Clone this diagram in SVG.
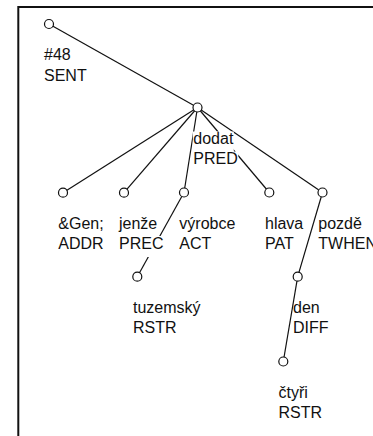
<svg xmlns="http://www.w3.org/2000/svg" width="373" height="436" viewBox="0 0 373 436">
  <style>
    .frame { fill: none; stroke: #111; stroke-width: 2; }
    .edge { stroke: #111; stroke-width: 1.2; fill: none; }
    .dot { fill: #fff; stroke: #111; stroke-width: 1.2; }
    .bg { fill: #fff; }
    text { font-family: "Liberation Sans", Arial, Helvetica, sans-serif; font-size: 16px; fill: #111; }
  </style>
  <rect x="0" y="0" width="373" height="436" fill="#fff"/>
  <path class="frame" d="M18.3,437 V7 H375"/>

  <!-- dependency edges, centre to centre -->
  <g id="connectors">
    <line class="edge" x1="49" y1="24" x2="197.5" y2="107.5"/>
    <line class="edge" x1="197.5" y1="107.5" x2="63" y2="192.7"/>
    <line class="edge" x1="197.5" y1="107.5" x2="124" y2="192.7"/>
    <line class="edge" x1="197.5" y1="107.5" x2="184" y2="192.5"/>
    <line class="edge" x1="197.5" y1="107.5" x2="269.3" y2="192.5"/>
    <line class="edge" x1="197.5" y1="107.5" x2="322.5" y2="192.5"/>
    <line class="edge" x1="184" y1="192.5" x2="137.3" y2="276.7"/>
    <line class="edge" x1="322.5" y1="192.5" x2="297.7" y2="276.7"/>
    <line class="edge" x1="297.7" y1="276.7" x2="283.3" y2="361.5"/>
  </g>

  <g id="n-sent">
    <circle class="dot" cx="49" cy="24" r="4.5"/>
    <text x="44" y="60">#48</text>
    <text x="44" y="81">SENT</text>
  </g>

  <g id="n-dodat">
    <circle class="dot" cx="197.5" cy="107.5" r="4.5"/>
    <rect class="bg" x="192.8" y="131.5" width="41" height="20.5"/>
    <rect class="bg" x="192.8" y="151.5" width="45.5" height="20.5"/>
    <text x="193.3" y="144">dodat</text>
    <text x="193.3" y="164">PRED</text>
  </g>

  <g id="n-gen">
    <circle class="dot" cx="63" cy="192.7" r="4.5"/>
    <text x="58.3" y="228.5">&amp;Gen;</text>
    <text x="58.3" y="248.5">ADDR</text>
  </g>

  <g id="n-jenze">
    <circle class="dot" cx="124" cy="192.7" r="4.5"/>
    <rect class="bg" x="118.5" y="216" width="39.2" height="20.5"/>
    <rect class="bg" x="118.5" y="236" width="45.4" height="21"/>
    <text x="119" y="228.5">jenže</text>
    <text x="119" y="248.5">PREC</text>
  </g>

  <g id="n-vyrobce">
    <circle class="dot" cx="184" cy="192.5" r="4.5"/>
    <text x="179.3" y="228.5">výrobce</text>
    <text x="179.3" y="248.5">ACT</text>
  </g>

  <g id="n-hlava">
    <circle class="dot" cx="269.3" cy="192.5" r="4.5"/>
    <text x="265" y="228.5">hlava</text>
    <text x="265" y="248.5">PAT</text>
  </g>

  <g id="n-pozde">
    <circle class="dot" cx="322.5" cy="192.5" r="4.5"/>
    <text x="318.3" y="228.5">pozdě</text>
    <text x="318.3" y="248.5">TWHEN</text>
  </g>

  <g id="n-tuzemsky">
    <circle class="dot" cx="137.3" cy="276.7" r="4.5"/>
    <text x="133" y="313">tuzemský</text>
    <text x="133" y="333">RSTR</text>
  </g>

  <g id="n-den">
    <circle class="dot" cx="297.7" cy="276.7" r="4.5"/>
    <text x="293" y="313">den</text>
    <text x="293" y="333">DIFF</text>
  </g>

  <g id="n-ctyri">
    <circle class="dot" cx="283.3" cy="361.5" r="4.5"/>
    <text x="278.5" y="397.5">čtyři</text>
    <text x="278.5" y="417.5">RSTR</text>
  </g>
</svg>
